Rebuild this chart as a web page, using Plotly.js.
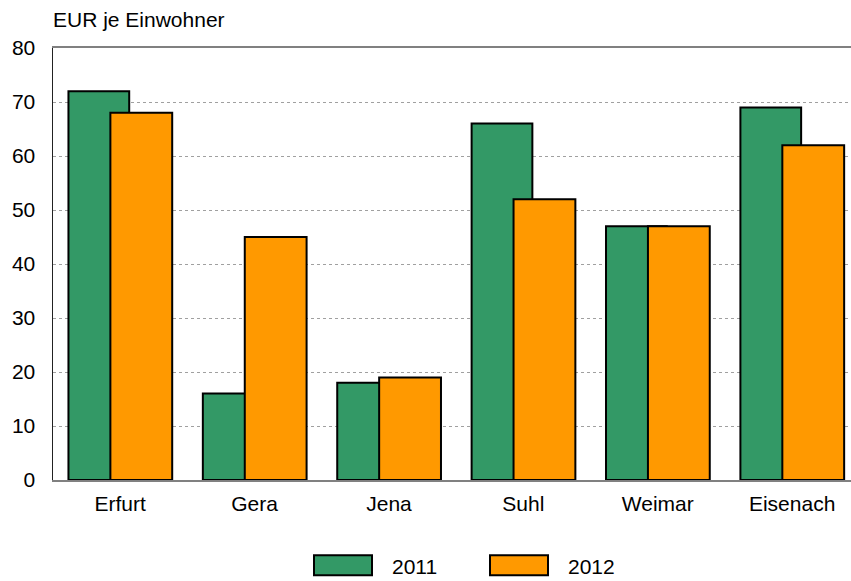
<!DOCTYPE html>
<html>
<head>
<meta charset="utf-8">
<script src="https://cdn.plot.ly/plotly-3.0.1.min.js"></script>
<style>html,body{margin:0;padding:0;background:#fff;}</style>
</head>
<body>
<div id="chart" style="width:851px;height:581px;"></div>
<script>
const categories = ["Erfurt", "Gera", "Jena", "Suhl", "Weimar", "Eisenach"];
const values2011 = [72, 16, 18, 66, 47, 69];
const values2012 = [68, 45, 19, 52, 47, 62];
const seriesNames = ["2011", "2012"];
const yTicks = [0, 10, 20, 30, 40, 50, 60, 70, 80];

const font = {family: "Liberation Sans, Arial, sans-serif", size: 21, color: "#000"};

const traces = [
  {type: "bar", name: seriesNames[0], x: categories, y: values2011,
   offset: -0.385, width: 0.452,
   marker: {color: "#339966", line: {color: "#000", width: 2}}},
  {type: "bar", name: seriesNames[1], x: categories, y: values2012,
   offset: -0.073, width: 0.46,
   marker: {color: "#FF9900", line: {color: "#000", width: 2}}}
];

const layout = {
  width: 851, height: 581,
  margin: {l: 53, r: 0, t: 47.5, b: 101, autoexpand: false},
  paper_bgcolor: "#fff", plot_bgcolor: "#fff",
  font: font,
  barmode: "overlay",
  showlegend: true,
  title: {text: "EUR je Einwohner", x: 53/851, xref: "container", xanchor: "left",
          y: 1 - 20/581, yref: "container", yanchor: "middle", font: font},
  xaxis: {type: "category", range: [-0.5, 5.438], showgrid: false, automargin: false,
          showline: true, linecolor: "#808080", linewidth: 2, mirror: true,
          ticks: "", tickfont: font, ticklabelstandoff: 4, fixedrange: true},
  yaxis: {range: [0, 80], tickvals: yTicks, showgrid: true, gridcolor: "#a0a0a0",
          griddash: "dot", gridwidth: 1, zeroline: false, automargin: false,
          showline: true, linecolor: "#222", linewidth: 1.5,
          ticks: "", tickfont: font, ticklabelstandoff: 12, fixedrange: true},
  legend: {orientation: "h", x: 0.513, xanchor: "center", y: -0.2, yanchor: "middle",
           font: font, entrywidth: 180, entrywidthmode: "pixels",
           itemsizing: "constant", bgcolor: "rgba(0,0,0,0)"}
};

const legendTextLeft = [392, 568];
const legendCenterY = 566;

Plotly.newPlot("chart", traces, layout, {staticPlot: true, displayModeBar: false}).then(function(){
  const root = document.getElementById("chart").getBoundingClientRect();
  document.querySelectorAll(".legend [clip-path]").forEach(function(el){
    el.removeAttribute("clip-path");
  });
  document.querySelectorAll(".legend .traces").forEach(function(g, i){
    const txt = g.querySelector("text.legendtext");
    const bb = txt.getBoundingClientRect();
    const dx = legendTextLeft[i] - (bb.left - root.left);
    const dy = legendCenterY - ((bb.top + bb.bottom) / 2 - root.top);
    const m = (g.getAttribute("transform") || "").match(/translate\(([-\d.e]+)[ ,]+([-\d.e]+)\)/);
    const tx = m ? parseFloat(m[1]) : 0, ty = m ? parseFloat(m[2]) : 0;
    g.setAttribute("transform", "translate(" + (tx + dx) + "," + (ty + dy) + ")");
    g.querySelectorAll(".legendpoints path").forEach(function(p){
      p.setAttribute("transform", "translate(0,0)");
      p.setAttribute("d", "M-38,-10H20V10H-38Z");
      p.style.strokeWidth = "2px";
    });
  });
});
</script>
</body>
</html>
